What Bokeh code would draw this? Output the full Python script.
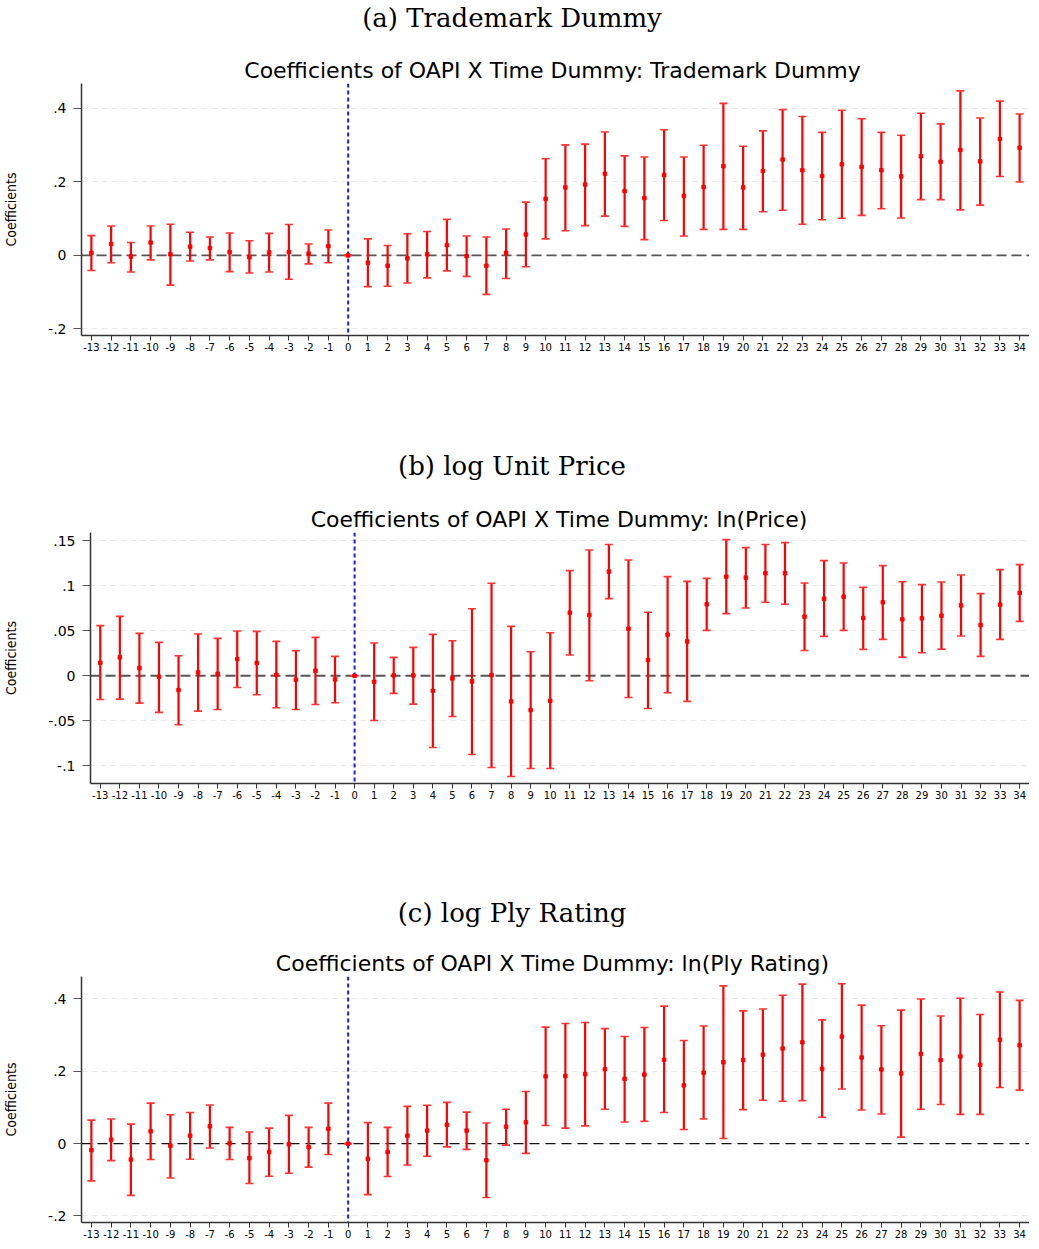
from bokeh.plotting import figure
from bokeh.models import (ColumnDataSource, Whisker, TeeHead, Span, Label, Range1d,
                          FixedTicker)
from bokeh.embed import file_html
from bokeh.resources import INLINE

periods = list(range(-13, 35))
x_tick_labels = [str(k) for k in periods]

# (a) Trademark Dummy
tm_coef = [0.007, 0.031, -0.003, 0.035, 0.003, 0.024, 0.020, 0.009, -0.005, 0.008, 0.009, 0.005, 0.025,
           0.0,
           -0.020, -0.028, -0.008, 0.003, 0.028, -0.002, -0.028, 0.007,
           0.057, 0.154, 0.185, 0.193, 0.222, 0.175, 0.156, 0.219, 0.162, 0.186, 0.243, 0.185, 0.230,
           0.261, 0.232, 0.216, 0.248, 0.241, 0.232, 0.215, 0.270, 0.255, 0.287, 0.256, 0.317, 0.293]
tm_upper = [0.054, 0.080, 0.035, 0.080, 0.085, 0.063, 0.050, 0.061, 0.040, 0.060, 0.084, 0.031, 0.069,
            0.0,
            0.045, 0.027, 0.059, 0.065, 0.098, 0.053, 0.050, 0.072,
            0.145, 0.263, 0.301, 0.303, 0.336, 0.271, 0.268, 0.342, 0.268, 0.300, 0.414, 0.297, 0.339,
            0.397, 0.378, 0.335, 0.395, 0.372, 0.335, 0.327, 0.387, 0.358, 0.448, 0.374, 0.420, 0.385]
tm_lower = [-0.041, -0.020, -0.045, -0.012, -0.081, -0.015, -0.012, -0.044, -0.048, -0.045, -0.065, -0.023, -0.020,
            0.0,
            -0.085, -0.084, -0.075, -0.061, -0.042, -0.057, -0.106, -0.063,
            -0.031, 0.045, 0.067, 0.081, 0.107, 0.079, 0.043, 0.095, 0.053, 0.071, 0.071, 0.071, 0.119,
            0.123, 0.085, 0.097, 0.101, 0.109, 0.127, 0.102, 0.152, 0.152, 0.124, 0.137, 0.215, 0.200]

# (b) log Unit Price
pr_coef = [0.0144, 0.0204, 0.0085, -0.0011, -0.0159, 0.0037, 0.0022, 0.0185, 0.0141, 0.0011, -0.0044, 0.0056, -0.0041,
           0.0,
           -0.0067, 0.0004, 0.0004, -0.0167, -0.0030, -0.0063, 0.0007, -0.0285,
           -0.0381, -0.0278, 0.0700, 0.0674, 0.1156, 0.0522, 0.0174, 0.0456, 0.0381, 0.0793, 0.1100, 0.1089,
           0.1137, 0.1137, 0.0656, 0.0856, 0.0878, 0.0641, 0.0815, 0.0626, 0.0637, 0.0667, 0.0781, 0.0563,
           0.0789, 0.0919]
pr_upper = [0.0556, 0.0659, 0.0470, 0.0370, 0.0222, 0.0463, 0.0415, 0.0496, 0.0493, 0.0381, 0.0278, 0.0426, 0.0215,
            0.0,
            0.0363, 0.0204, 0.0315, 0.0459, 0.0389, 0.0744, 0.1026, 0.0548,
            0.0267, 0.0478, 0.1167, 0.1396, 0.1456, 0.1285, 0.0704, 0.1100, 0.1048, 0.1081, 0.1511, 0.1422,
            0.1456, 0.1478, 0.1030, 0.1278, 0.1252, 0.0981, 0.1222, 0.1044, 0.1011, 0.1041, 0.1119, 0.0911,
            0.1178, 0.1233]
pr_lower = [-0.0263, -0.0259, -0.0304, -0.0407, -0.0544, -0.0393, -0.0374, -0.0130, -0.0211, -0.0356, -0.0374, -0.0319, -0.0300,
            0.0,
            -0.0496, -0.0196, -0.0315, -0.0796, -0.0452, -0.0874, -0.1019, -0.1119,
            -0.1030, -0.1030, 0.0230, -0.0056, 0.0856, -0.0241, -0.0363, -0.0189, -0.0285, 0.0504, 0.0689, 0.0752,
            0.0815, 0.0793, 0.0281, 0.0437, 0.0504, 0.0293, 0.0404, 0.0207, 0.0256, 0.0296, 0.0441, 0.0215,
            0.0404, 0.0604]

# (c) log Ply Rating
ply_coef = [-0.018, 0.011, -0.044, 0.034, -0.006, 0.022, 0.048, 0.001, -0.040, -0.023, -0.002, -0.010, 0.041,
            0.0,
            -0.042, -0.023, 0.022, 0.036, 0.052, 0.036, -0.046, 0.047,
            0.059, 0.186, 0.187, 0.192, 0.206, 0.179, 0.191, 0.232, 0.161, 0.196, 0.225, 0.231, 0.246,
            0.263, 0.280, 0.207, 0.296, 0.238, 0.205, 0.194, 0.248, 0.231, 0.241, 0.218, 0.287, 0.272]
ply_upper = [0.065, 0.068, 0.054, 0.112, 0.080, 0.086, 0.107, 0.045, 0.032, 0.043, 0.078, 0.045, 0.112,
             0.0,
             0.058, 0.045, 0.103, 0.106, 0.114, 0.087, 0.057, 0.095,
             0.144, 0.322, 0.332, 0.335, 0.318, 0.296, 0.321, 0.380, 0.285, 0.325, 0.436, 0.367, 0.372,
             0.410, 0.441, 0.342, 0.442, 0.383, 0.326, 0.369, 0.400, 0.353, 0.402, 0.357, 0.419, 0.396]
ply_lower = [-0.103, -0.047, -0.143, -0.044, -0.095, -0.043, -0.012, -0.044, -0.110, -0.090, -0.082, -0.065, -0.030,
             0.0,
             -0.141, -0.091, -0.059, -0.035, -0.009, -0.016, -0.149, -0.004,
             -0.027, 0.050, 0.043, 0.049, 0.095, 0.060, 0.062, 0.086, 0.039, 0.068, 0.014, 0.094, 0.120,
             0.117, 0.119, 0.073, 0.151, 0.093, 0.082, 0.018, 0.095, 0.108, 0.081, 0.081, 0.155, 0.148]

ticks_ab = [-0.2, 0.0, 0.2, 0.4]
tick_labels_ab = ["-.2", "0", ".2", ".4"]
ticks_price = [-0.1, -0.05, 0.0, 0.05, 0.1, 0.15]
tick_labels_price = ["-.1", "-.05", "0", ".05", ".1", ".15"]

headers = ["(a) Trademark Dummy", "(b) log Unit Price", "(c) log Ply Rating"]
titles = ["Coefficients of OAPI X Time Dummy: Trademark Dummy",
          "Coefficients of OAPI X Time Dummy: ln(Price)",
          "Coefficients of OAPI X Time Dummy: ln(Ply Rating)"]

PAGE_W = 1029
PAGE_CENTER = 511.5


def header_fig(header, title, height, header_y, b_left):
    h = figure(width=PAGE_W, height=height, output_backend="svg", toolbar_location=None,
               x_range=Range1d(0, 1), y_range=Range1d(0, 1),
               x_axis_location=None, y_axis_location=None,
               min_border=0, min_border_left=0, min_border_right=0,
               min_border_top=0, min_border_bottom=0)
    h.grid.visible = False
    h.outline_line_color = None
    h.add_layout(Label(x=PAGE_CENTER, y=header_y, x_units="screen", y_units="screen",
                       text=header, text_font="DejaVu Serif", text_font_size="26px",
                       text_align="center", text_baseline="middle", text_color="black"))
    frame_center = b_left + (PAGE_W - b_left) / 2.0
    h.add_layout(Label(x=frame_center, y=1, x_units="screen", y_units="screen",
                       text=title, text_font="DejaVu Sans", text_font_size="22px",
                       text_align="center", text_baseline="bottom", text_color="black"))
    return h


def panel(coef, lower, upper, yrange, yticks, ylabels, height, b_bottom, b_left,
          zero_color, zero_width, zero_dash):
    p = figure(width=PAGE_W, height=height, output_backend="svg", toolbar_location=None,
               x_range=Range1d(-13.5, 34.5), y_range=Range1d(*yrange),
               min_border_top=0, min_border_bottom=b_bottom,
               min_border_left=b_left, min_border_right=0)
    p.outline_line_color = None
    p.background_fill_color = "white"
    p.border_fill_color = "white"

    p.xgrid.visible = False
    p.ygrid.grid_line_color = "#e9e9e9"
    p.ygrid.grid_line_dash = "6 4"
    p.ygrid.grid_line_width = 1

    p.xaxis.ticker = FixedTicker(ticks=periods)
    p.xaxis.major_label_overrides = {k: s for k, s in zip(periods, x_tick_labels)}
    p.xaxis.major_label_text_font = "DejaVu Sans"
    p.xaxis.major_label_text_font_size = "10px"
    p.xaxis.major_label_text_color = "black"
    p.xaxis.major_label_standoff = 2
    p.xaxis.major_tick_out = 5
    p.xaxis.major_tick_in = 0
    p.xaxis.minor_tick_line_color = None
    p.xaxis.axis_line_color = "#333333"
    p.xaxis.axis_line_width = 1.5
    p.xaxis.major_tick_line_color = "#333333"

    p.yaxis.ticker = FixedTicker(ticks=yticks)
    p.yaxis.major_label_overrides = {t: s for t, s in zip(yticks, ylabels)}
    p.yaxis.major_label_text_font = "DejaVu Sans"
    p.yaxis.major_label_text_font_size = "14px"
    p.yaxis.major_label_text_color = "black"
    p.yaxis.major_label_standoff = 7
    p.yaxis.major_tick_out = 8
    p.yaxis.major_tick_in = 0
    p.yaxis.minor_tick_line_color = None
    p.yaxis.axis_line_color = "#333333"
    p.yaxis.axis_line_width = 1.5
    p.yaxis.major_tick_line_color = "#555555"
    p.yaxis.axis_label = "Coefficients"
    p.yaxis.axis_label_text_font = "DejaVu Sans Condensed"
    p.yaxis.axis_label_text_font_style = "normal"
    p.yaxis.axis_label_text_font_size = "14px"
    p.yaxis.axis_label_text_color = "black"
    p.yaxis.axis_label_standoff = 26

    zero = Span(location=0, dimension="width", line_color=zero_color,
                line_width=zero_width, line_dash=zero_dash, level="underlay")
    vline = Span(location=0, dimension="height", line_color="#1a1aff",
                 line_width=2, line_dash="4 3", level="underlay")
    p.add_layout(zero)
    p.add_layout(vline)

    src = ColumnDataSource(data=dict(x=periods, y=coef, lo=lower, hi=upper))
    w = Whisker(base="x", upper="hi", lower="lo", source=src, dimension="height",
                line_color="#ff0000", line_width=2.2,
                upper_head=TeeHead(size=8, line_color="#ff3333", line_width=1.6),
                lower_head=TeeHead(size=8, line_color="#ff3333", line_width=1.6))
    p.add_layout(w)
    p.scatter("x", "y", source=src, marker="square", size=3.5, color="#ff0000")
    return p


ha = header_fig(headers[0], titles[0], 83, 66, 75)
pa = panel(tm_coef, tm_lower, tm_upper, (-0.218, 0.468), ticks_ab, tick_labels_ab,
           365, 113, 75, "#555555", 1.8, "10 5")
hb = header_fig(headers[1], titles[1], 84, 67, 88)
pb = panel(pr_coef, pr_lower, pr_upper, (-0.1196, 0.159), ticks_price, tick_labels_price,
           363, 112, 88, "#555555", 1.8, "10 5")
hc = header_fig(headers[2], titles[2], 81, 64, 75)
pc = panel(ply_coef, ply_lower, ply_upper, (-0.218, 0.462), ticks_ab, tick_labels_ab,
           265, 19, 75, "#111111", 1.4, "10 6")

open("out.html", "w").write(file_html([ha, pa, hb, pb, hc, pc], INLINE))
